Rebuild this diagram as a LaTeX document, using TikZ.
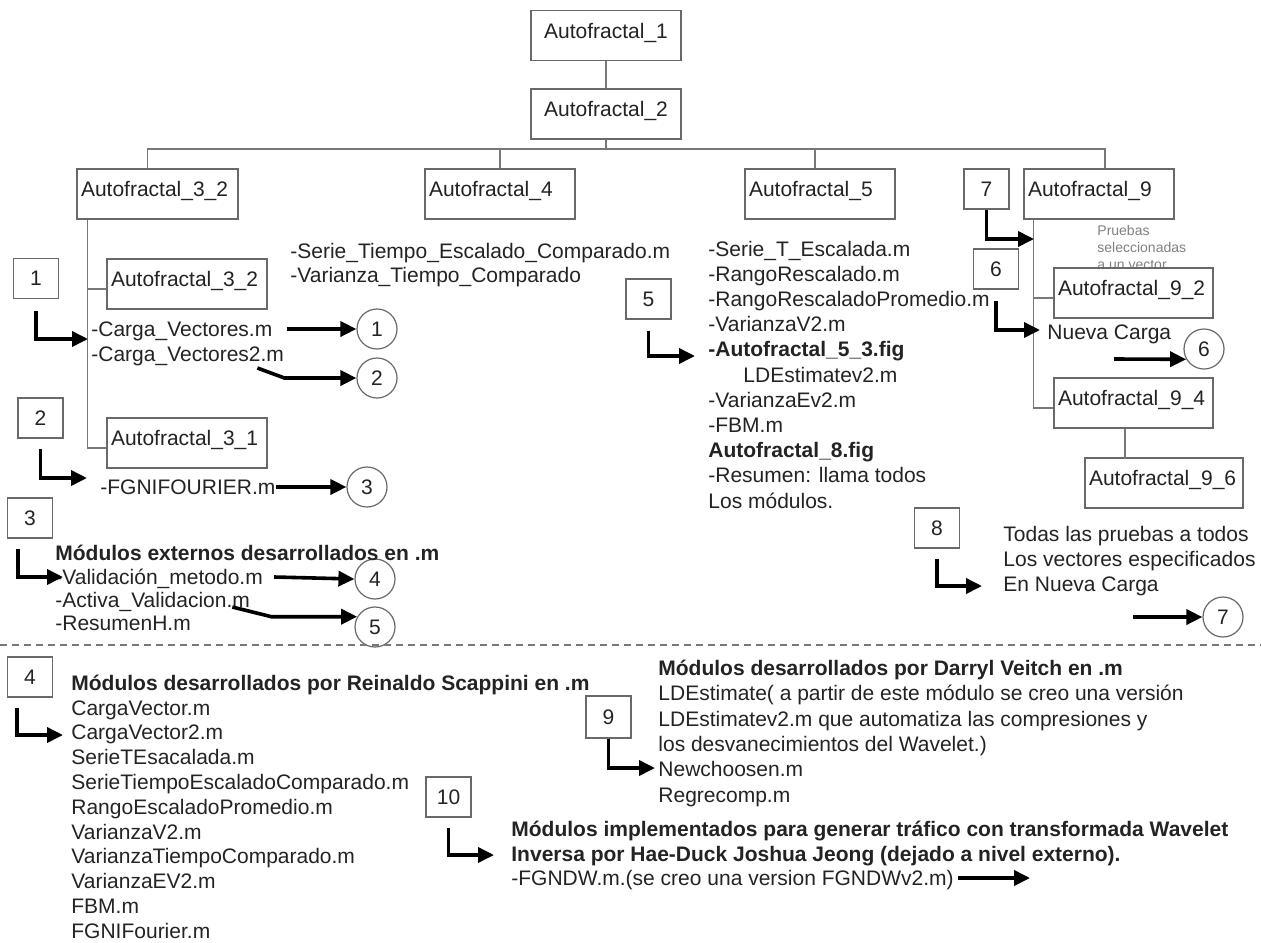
\documentclass[tikz,border=0pt]{standalone}
\usepackage{fontspec}
\setmainfont{Liberation Sans}
\usepackage{tikz}
\usetikzlibrary{positioning,arrows.meta}

\definecolor{ink}{RGB}{35,35,35}
\definecolor{boxgray}{RGB}{105,105,105}
\definecolor{linegray}{RGB}{120,120,120}
\newcommand{\fsmain}{\fontsize{10.5pt}{12.6pt}\selectfont}
\newcommand{\fssmall}{\fontsize{7pt}{8.5pt}\selectfont}

\begin{document}
\begin{tikzpicture}[x=0.5pt, y=-0.5pt,
  every node/.style={text=ink},
  box/.style={draw=boxgray, line width=0.7pt, fill=white, font=\fsmain,
    minimum height=25pt, inner xsep=2pt, text width=#1, align=left,
    text height=7.5pt, text depth=5pt},
  numbox/.style={draw=boxgray, line width=0.6pt, font=\fsmain, inner sep=0pt,
    minimum width=22.5pt, minimum height=20pt},
  circ/.style={draw=boxgray, line width=0.6pt, circle, font=\fsmain,
    minimum size=20pt, inner sep=0pt},
  txt/.style={anchor=west, inner sep=0pt, font=\fsmain, text height=7.5pt, text depth=0pt},
  block/.style={anchor=north west, inner sep=0pt, align=left, font=#1},
  tline/.style={draw=linegray, line width=0.6pt},
  arr/.style={draw=black, line width=1.8pt, -{Triangle[length=8pt,width=7.5pt]}},
]
\useasboundingbox (0,0) rectangle (1261,942);

% tree of the Autofractal windows
\node[box=71pt, align=center] (a1) at (606,35.5) {Autofractal\_1};
\node[box=71pt, align=center] (a2) at (606,114) {Autofractal\_2};
\node[box=76.5pt] (a3) at (157.5,194) {Autofractal\_3\_2};
\node[box=71pt] (a4) at (500,194) {Autofractal\_4};
\node[box=71pt] (a5) at (820,194) {Autofractal\_5};
\node[box=71pt] (a9) at (1099,194) {Autofractal\_9};
\node[box=76pt] (a32) at (187,284) {Autofractal\_3\_2};
\node[box=76pt] (a31) at (187,443) {Autofractal\_3\_1};
\node[block=\fssmall, text=gray] (pru) at (1097,225) {Pruebas\\seleccionadas\\a un vector};
\node[box=75.5pt] (a92) at (1133.5,293) {Autofractal\_9\_2};
\node[box=75.5pt] (a94) at (1133.5,403) {Autofractal\_9\_4};
\node[box=75pt] (a96) at (1164,483) {Autofractal\_9\_6};

\coordinate (bus) at (0,149);
\draw[tline] (a1) -- (a2);
\draw[tline] ([xshift=-5pt]a3.north) |- ([xshift=3pt]a9.north |- bus) -- ([xshift=3pt]a9.north);
\draw[tline] (a2.south) -- (a2.south |- bus);
\draw[tline] (a4.north) -- (a4.north |- bus);
\draw[tline] ([xshift=-2.5pt]a5.north) -- ([xshift=-2.5pt]a5.north |- bus);
\draw[tline] ([xshift=5.5pt]a3.south west) |- ([yshift=-2.5pt]a31.west);
\draw[tline] ([yshift=-2.5pt]a32.west) -- ++(-19,0);
\draw[tline] ([xshift=5pt]a9.south west) |- ([yshift=-2.5pt]a94.west);
\draw[tline] ([yshift=-2.5pt]a92.west) -- ++(-20,0);
\draw[tline] ([xshift=-4.25pt]a94.south) -- ++(0,30);

% numbered markers
\node[numbox] (n1) at (36,278.5) {1};
\node[numbox] (n2) at (40.5,418) {2};
\node[numbox] (n3) at (30,518) {3};
\node[numbox] (n4) at (30,677) {4};
\node[numbox] (n5) at (648.5,299) {5};
\node[numbox] (n6) at (996,269) {6};
\node[numbox] (n7) at (986.5,189) {7};
\node[numbox] (n8) at (937,528) {8};
\node[numbox, minimum height=21pt] (n9) at (608.5,717) {9};
\node[numbox] (n10) at (448.5,797) {10};

% circled references
\node[circ] (c1) at (377,329) {1};
\node[circ] (c2) at (377,378) {2};
\node[circ] (c3) at (367,487) {3};
\node[circ] (c4) at (375,579) {4};
\node[circ] (c5) at (375,627) {5};
\node[circ] (c6) at (1204,349) {6};
\node[circ] (c7) at (1223,617) {7};

% texts
\node[txt] (cv1) at (91,329) {-Carga\_Vectores.m};
\node[txt] (cv2) at (91,354) {-Carga\_Vectores2.m};
\node[txt] (fgf) at (100,487) {-FGNIFOURIER.m};
\node[txt, font=\fsmain\bfseries] (ext) at (55,553) {Módulos externos desarrollados en .m};
\node[txt] (v1) at (55,577) {-Validación\_metodo.m};
\node[txt] (v2) at (55,600) {-Activa\_Validacion.m};
\node[txt] (v3) at (55,623) {-ResumenH.m};
\node[block={\fontsize{10.5pt}{12pt}\selectfont}] (t4) at (290,242.5)
  {-Serie\_Tiempo\_Escalado\_Comparado.m\\-Varianza\_Tiempo\_Comparado};
\node[block=\fsmain] (t5) at (708,240.5)
  {-Serie\_T\_Escalada.m\\-RangoRescalado.m\\-RangoRescaladoPromedio.m\\-VarianzaV2.m\\
   \textbf{-Autofractal\_5\_3.fig}\\\hspace*{17.5pt}LDEstimatev2.m\\-VarianzaEv2.m\\-FBM.m\\
   \textbf{Autofractal\_8.fig}\\-Resumen: llama todos\\Los módulos.};
\node[txt] (nc) at (1047,332) {Nueva Carga};
\node[block={\fontsize{10.5pt}{12.5pt}\selectfont}] (tod) at (1003,525.5)
  {Todas las pruebas a todos\\Los vectores especificados\\En Nueva Carga};
\node[block={\fontsize{10.5pt}{12.4pt}\selectfont}] (scap) at (71,674.5)
  {\textbf{Módulos desarrollados por Reinaldo Scappini en .m}\\CargaVector.m\\CargaVector2.m\\
   SerieTEsacalada.m\\SerieTiempoEscaladoComparado.m\\RangoEscaladoPromedio.m\\VarianzaV2.m\\
   VarianzaTiempoComparado.m\\VarianzaEV2.m\\FBM.m\\FGNIFourier.m};
\node[block={\fontsize{10.5pt}{12.7pt}\selectfont}] (dv) at (658,659.5)
  {\textbf{Módulos desarrollados por Darryl Veitch en .m}\\
   LDEstimate( a partir de este módulo se creo una versión\\
   LDEstimatev2.m que automatiza las compresiones y\\
   los desvanecimientos del Wavelet.)\\Newchoosen.m\\Regrecomp.m};
\node[block={\fontsize{10.5pt}{12.5pt}\selectfont\bfseries}] (imp) at (511,820.5)
  {Módulos implementados para generar tráfico con transformada Wavelet\\
   Inversa por Hae-Duck Joshua Jeong (dejado a nivel externo).};
\node[txt] (fg) at (511,878) {-FGNDW.m.(se creo una version FGNDWv2.m)};

% separator
\draw[linegray, line width=0.6pt, dash pattern=on 3.5pt off 2.5pt] (0,645) -- (1261,645);

% arrow ends
\coordinate (j1) at (88,339);
\coordinate (j2) at (87,478);
\coordinate (j3) at (63,577);
\coordinate (j4) at (63,735);
\coordinate (j5) at (695,356);
\coordinate (j6) at (1040,330);
\coordinate (j7) at (1034,239);
\coordinate (j8) at (982,586);
\coordinate (j9) at (655,768);
\coordinate (j10) at (494,855);
\coordinate (s6) at (1114,359);
\coordinate (s7) at (1133,617);
\coordinate (fgend) at ([xshift=38pt]fg.east);

% elbow arrows from the markers
\draw[arr, shorten <=6pt] (n1.south) |- (j1);
\draw[arr, shorten <=5pt] (n2.south) |- (j2);
\draw[arr, shorten <=5pt] ([xshift=-6pt]n3.south) |- (j3);
\draw[arr, shorten <=5pt] ([xshift=-6.5pt]n4.south) |- (j4);
\draw[arr, shorten <=5.5pt] (n5.south) |- (j5);
\draw[arr, shorten <=5.5pt] (n6.south) |- (j6);
\draw[arr] (n7.south) |- (j7);
\draw[arr, shorten <=5pt] (n8.south) |- (j8);
\draw[arr] (n9.south) |- (j9);
\draw[arr, shorten <=5pt] (n10.south) |- (j10);

% arrows to the circled references
\draw[arr] ([xshift=7pt]cv1.east) -- (c1.west);
\draw[arr] ([xshift=-13.5pt,yshift=-7pt]cv2.east) -- (cv2.east |- c2.west) -- (c2.west);
\draw[arr] (fgf.east) -- (c3.west);
\draw[arr] ([xshift=5.5pt]v1.east) -- (c4.west);
\draw[arr] ([xshift=-9pt,yshift=-3.5pt]v2.east) -- ([xshift=10.5pt]v2.east |- c5.150) -- (c5.150);
\draw[arr] (s6) -- (c6.210);
\draw[arr] (s7) -- (c7.west);
\draw[arr] ([xshift=2pt]fg.east) -- (fgend);
\end{tikzpicture}
\end{document}
